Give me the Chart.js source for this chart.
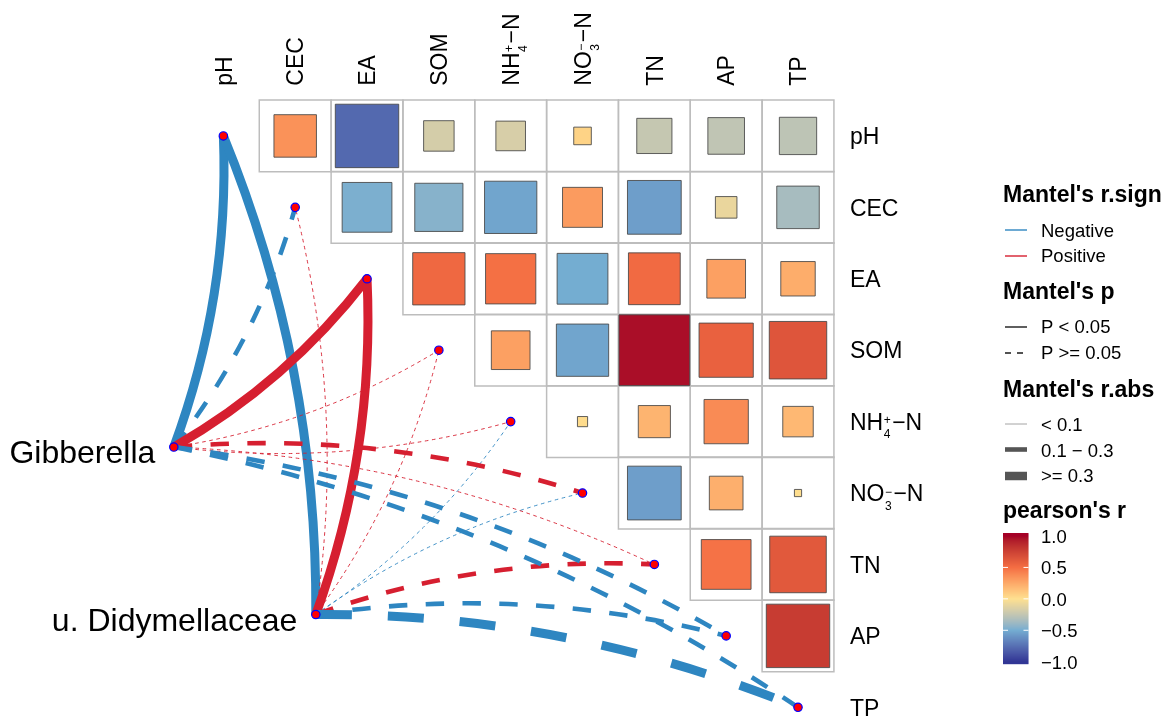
<!DOCTYPE html>
<html>
<head>
<meta charset="utf-8">
<title>Mantel test + correlation heatmap</title>
<script src="https://cdn.jsdelivr.net/npm/chart.js@4.4.1/dist/chart.umd.min.js"></script>
<style>
  html, body { margin: 0; padding: 0; background: #fff; }
  #wrap { width: 1169px; height: 726px; }
</style>
</head>
<body>
<div id="wrap"><canvas id="mantelChart"></canvas></div>
<script>
// ---- data ----
const envVars = ['pH', 'CEC', 'EA', 'SOM', 'NH4', 'NO3', 'TN', 'AP', 'TP'];

// pearson's r, upper triangle, each row against the variables to its right
const rPH  = [0.35, -0.78, -0.18, -0.17, 0.06, -0.24, -0.26, -0.27];
const rCEC = [-0.48, -0.45, -0.53, 0.31, -0.56, -0.09, -0.35];
const rEA  = [0.53, 0.49, -0.50, 0.52, 0.29, 0.23];
const rSOM = [0.29, -0.53, 0.97, 0.57, 0.64];
const rNH4 = [0.02, 0.20, 0.38, 0.18];
const rNO3 = [-0.56, 0.22, 0.01];
const rTN  = [0.48, 0.62];
const rAP  = [0.78];
const corrRows = [rPH, rCEC, rEA, rSOM, rNH4, rNO3, rTN, rAP];

// Mantel test, one value per env variable (same order as envVars)
const speciesNames = ['Gibberella', 'u. Didymellaceae'];
const mantelR_Gib = [-0.38, -0.16, 0.36, 0.06, 0.05, 0.18, 0.04, -0.20, -0.22];
const mantelP_Gib = [0.003, 0.12, 0.004, 0.31, 0.35, 0.08, 0.40, 0.07, 0.06];
const mantelR_Did = [-0.40, 0.07, 0.33, 0.05, -0.06, -0.04, 0.17, -0.19, -0.31];
const mantelP_Did = [0.002, 0.30, 0.006, 0.35, 0.30, 0.40, 0.10, 0.09, 0.052];
const mantelR = [mantelR_Gib, mantelR_Did];
const mantelP = [mantelP_Gib, mantelP_Did];

const colorTicks = [1.0, 0.5, 0.0, -0.5, -1.0];

// ---- layout / style ----
const FONT = '"Liberation Sans", Arial, Helvetica, sans-serif';
const BLUE = '#2E86C1';
const RED = '#D61F30';
const CURVATURE = 0.1;
const speciesPos = [{ x: -0.690, y: 4.356 }, { x: 1.287, y: 6.701 }];

// colour scale (interpolated in Lab like ggplot's gradientn)
const fillStops = [-1, -0.5, 0, 0.5, 1];
const fillColours = ['#313695', '#74ADD1', '#FEE090', '#F46D43', '#A50026'];

function hexToRgb(h) {
  return [1, 3, 5].map(i => parseInt(h.substr(i, 2), 16));
}
function toLab(rgb) {
  const lin = rgb.map(c => { c /= 255; return c <= 0.04045 ? c / 12.92 : Math.pow((c + 0.055) / 1.055, 2.4); });
  const X = (0.4124 * lin[0] + 0.3576 * lin[1] + 0.1805 * lin[2]) / 0.95047;
  const Y = (0.2126 * lin[0] + 0.7152 * lin[1] + 0.0722 * lin[2]);
  const Z = (0.0193 * lin[0] + 0.1192 * lin[1] + 0.9505 * lin[2]) / 1.08883;
  const f = t => t > 0.008856 ? Math.cbrt(t) : 7.787 * t + 16 / 116;
  const fx = f(X), fy = f(Y), fz = f(Z);
  return [116 * fy - 16, 500 * (fx - fy), 200 * (fy - fz)];
}
function fromLab(lab) {
  const fy = (lab[0] + 16) / 116, fx = fy + lab[1] / 500, fz = fy - lab[2] / 200;
  const g = t => t * t * t > 0.008856 ? t * t * t : (t - 16 / 116) / 7.787;
  const X = g(fx) * 0.95047, Y = g(fy), Z = g(fz) * 1.08883;
  const lin = [
    3.2406 * X - 1.5372 * Y - 0.4986 * Z,
    -0.9689 * X + 1.8758 * Y + 0.0415 * Z,
    0.0557 * X - 0.2040 * Y + 1.0570 * Z
  ];
  const rgb = lin.map(c => {
    c = c <= 0.0031308 ? 12.92 * c : 1.055 * Math.pow(c, 1 / 2.4) - 0.055;
    return Math.max(0, Math.min(255, Math.round(c * 255)));
  });
  return 'rgb(' + rgb.join(',') + ')';
}
const fillLabs = fillColours.map(c => toLab(hexToRgb(c)));
function fillFor(r) {
  r = Math.max(-1, Math.min(1, r));
  let k = 0;
  while (k < fillStops.length - 2 && r > fillStops[k + 1]) k++;
  const t = (r - fillStops[k]) / (fillStops[k + 1] - fillStops[k]);
  const a = fillLabs[k], b = fillLabs[k + 1];
  return fromLab([0, 1, 2].map(i => a[i] + (b[i] - a[i]) * t));
}

function widthFor(absR) {
  if (absR < 0.1) return 0.9;
  if (absR < 0.3) return 4.6;
  return 9;
}

// ---- datasets built from the arrays ----
const gridPoints = [];
const squarePoints = [];
corrRows.forEach((vals, row) => {
  vals.forEach((r, k) => {
    const col = row + 1 + k;
    gridPoints.push({ x: col, y: row });
    squarePoints.push({ x: col, y: row, r: r });
  });
});
const nodePoints = envVars.map((v, i) => ({ x: i, y: i }))
  .concat(speciesPos.map(p => ({ x: p.x, y: p.y })));

function cellPx(chart) {
  const xs = chart.scales.x;
  return xs.getPixelForValue(1) - xs.getPixelForValue(0);
}

// ---- text helpers ----
function labelParts(name) {
  if (name === 'NH4') return [{ t: 'NH' }, { sub: '4', sup: '+' }, { t: '\u2212N', pad: 1 }];
  if (name === 'NO3') return [{ t: 'NO' }, { sub: '3', sup: '\u2212' }, { t: '\u2212N', pad: 1 }];
  return [{ t: name }];
}
function drawRich(ctx, name, x, y, size) {
  let cx = x;
  ctx.textAlign = 'left';
  ctx.textBaseline = 'alphabetic';
  labelParts(name).forEach(p => {
    if (p.t) {
      ctx.font = size + 'px ' + FONT;
      cx += p.pad || 0;
      ctx.fillText(p.t, cx, y);
      cx += ctx.measureText(p.t).width;
    } else {
      const s = Math.round(size * 0.52);
      ctx.font = s + 'px ' + FONT;
      const w = Math.max(ctx.measureText(p.sub).width, ctx.measureText(p.sup).width);
      ctx.fillText(p.sub, cx + 0.5, y + size * 0.36);
      ctx.fillText(p.sup, cx + 0.5, y - size * 0.24);
      cx += w + 1;
    }
  });
}

// ---- drawing layers ----
function drawLinks(chart) {
  const { ctx } = chart;
  const xs = chart.scales.x, ys = chart.scales.y;
  ctx.save();
  ctx.lineCap = 'butt';
  envVars.forEach((v, j) => {
    speciesNames.forEach((sp, s) => {
      const r = mantelR[s][j], p = mantelP[s][j];
      const x0 = xs.getPixelForValue(speciesPos[s].x), y0 = ys.getPixelForValue(speciesPos[s].y);
      const x1 = xs.getPixelForValue(j), y1 = ys.getPixelForValue(j);
      const dx = x1 - x0, dy = y1 - y0;
      const sign = j <= 4 ? 1 : -1;
      const cx = (x0 + x1) / 2 - sign * CURVATURE * dy;
      const cy = (y0 + y1) / 2 + sign * CURVATURE * dx;
      const w = widthFor(Math.abs(r));
      ctx.lineWidth = w;
      ctx.strokeStyle = r < 0 ? BLUE : RED;
      ctx.setLineDash(p < 0.05 ? [] : [4 * w, 4 * w]);
      ctx.beginPath();
      ctx.moveTo(x0, y0);
      ctx.quadraticCurveTo(cx, cy, x1, y1);
      ctx.stroke();
    });
  });
  ctx.restore();
}

function drawAxisLabels(chart) {
  const { ctx } = chart;
  const xs = chart.scales.x, ys = chart.scales.y;
  const top = ys.getPixelForValue(-0.5);
  const right = xs.getPixelForValue(envVars.length - 0.5);
  ctx.save();
  ctx.fillStyle = '#000';
  envVars.forEach((v, i) => {
    // column labels, rotated
    ctx.save();
    ctx.translate(xs.getPixelForValue(i) + 8.3, top - 14.5);
    ctx.rotate(-Math.PI / 2);
    drawRich(ctx, v, 0, 0, 23);
    ctx.restore();
    // row labels
    drawRich(ctx, v, right + 16, ys.getPixelForValue(i) + 8.3, 23);
  });
  ctx.restore();
}

function drawSpeciesLabels(chart) {
  const { ctx } = chart;
  const xs = chart.scales.x, ys = chart.scales.y;
  ctx.save();
  ctx.fillStyle = '#000';
  ctx.font = '32px ' + FONT;
  ctx.textAlign = 'right';
  ctx.textBaseline = 'alphabetic';
  speciesNames.forEach((n, s) => {
    ctx.fillText(n, xs.getPixelForValue(speciesPos[s].x) - 18.5, ys.getPixelForValue(speciesPos[s].y) + 16);
  });
  ctx.restore();
}

function drawLegends(chart) {
  const { ctx } = chart;
  const lx = 1003, tx = 1041;
  ctx.save();
  ctx.fillStyle = '#000';
  ctx.textAlign = 'left';
  ctx.textBaseline = 'alphabetic';
  const title = (t, y) => { ctx.font = 'bold 23px ' + FONT; ctx.fillText(t, lx, y); };
  const item = (t, y) => { ctx.font = '18.5px ' + FONT; ctx.fillText(t, tx, y); };
  const sample = (y, colour, w, dash) => {
    ctx.save();
    ctx.strokeStyle = colour;
    ctx.lineWidth = w;
    ctx.lineCap = 'butt';
    ctx.setLineDash(dash || []);
    ctx.beginPath();
    ctx.moveTo(lx + 2, y);
    ctx.lineTo(lx + 24, y);
    ctx.stroke();
    ctx.restore();
  };

  title("Mantel's r.sign", 201.5);
  sample(230, BLUE, 1.4); item('Negative', 236.5);
  sample(256, RED, 1.4); item('Positive', 262);

  title("Mantel's p", 299);
  sample(327, '#1a1a1a', 1.4); item('P < 0.05', 333);
  sample(353, '#1a1a1a', 1.4, [6, 6]); item('P >= 0.05', 359);

  title("Mantel's r.abs", 396.5);
  sample(424, '#9a9a9a', widthFor(0.05)); item('< 0.1', 430.5);
  sample(449.5, '#555555', widthFor(0.2)); item('0.1 \u2212 0.3', 456.5);
  sample(476, '#555555', 8.5); item('>= 0.3', 482);

  title("pearson's r", 518);
  // colour bar
  const barTop = 533, barBot = 664, yHi = 536, yLo = 661.7;
  const valToY = v => yHi + (1 - v) / 2 * (yLo - yHi);
  for (let py = barTop; py < barBot; py++) {
    const v = 1 - (py + 0.5 - yHi) / (yLo - yHi) * 2;
    ctx.fillStyle = fillFor(v);
    ctx.fillRect(lx, py, 25.5, 1.2);
  }
  ctx.strokeStyle = '#ffffff';
  ctx.lineWidth = 1;
  colorTicks.forEach(v => {
    if (Math.abs(v) === 1) return;
    const y = valToY(v);
    ctx.beginPath();
    ctx.moveTo(lx, y); ctx.lineTo(lx + 5, y);
    ctx.moveTo(lx + 20.5, y); ctx.lineTo(lx + 25.5, y);
    ctx.stroke();
  });
  ctx.fillStyle = '#000';
  ctx.font = '18.5px ' + FONT;
  colorTicks.forEach(v => {
    const lbl = (v < 0 ? '\u2212' : '') + Math.abs(v).toFixed(1);
    ctx.fillText(lbl, tx, valToY(v) + 6.8);
  });
  ctx.restore();
}

const mantelPlugin = {
  id: 'mantelLayer',
  afterDatasetDraw(chart, args) {
    if (args.index === 1) drawLinks(chart);
  },
  afterDraw(chart) {
    drawAxisLabels(chart);
    drawSpeciesLabels(chart);
    drawLegends(chart);
  }
};

const ctxEl = document.getElementById('mantelChart');
new Chart(ctxEl, {
  type: 'scatter',
  data: {
    datasets: [
      {
        label: 'grid',
        data: gridPoints,
        order: 3,
        pointStyle: 'rect',
        pointRadius: c => cellPx(c.chart) / Math.SQRT2,
        pointBackgroundColor: 'rgba(0,0,0,0)',
        pointBorderColor: '#BDBDBD',
        pointBorderWidth: 1.5
      },
      {
        label: "pearson's r",
        data: squarePoints,
        order: 2,
        pointStyle: 'rect',
        pointRadius: c => cellPx(c.chart) * Math.sqrt(Math.abs(c.raw.r)) / Math.SQRT2,
        pointBackgroundColor: c => fillFor(c.raw.r),
        pointBorderColor: 'rgba(70,70,70,0.85)',
        pointBorderWidth: 1
      },
      {
        label: 'nodes',
        data: nodePoints,
        order: 1,
        pointStyle: 'circle',
        pointRadius: 4.2,
        pointBackgroundColor: '#FF0000',
        pointBorderColor: '#0000FF',
        pointBorderWidth: 1.2
      }
    ]
  },
  options: {
    responsive: true,
    maintainAspectRatio: false,
    animation: false,
    events: [],
    layout: { padding: 0 },
    scales: {
      x: { type: 'linear', display: false, min: -3.0345, max: 13.0897 },
      y: { type: 'linear', display: false, reverse: true, min: -1.8276, max: 8.1862 }
    },
    plugins: {
      legend: { display: false },
      tooltip: { enabled: false }
    }
  },
  plugins: [mantelPlugin]
});
</script>
</body>
</html>
